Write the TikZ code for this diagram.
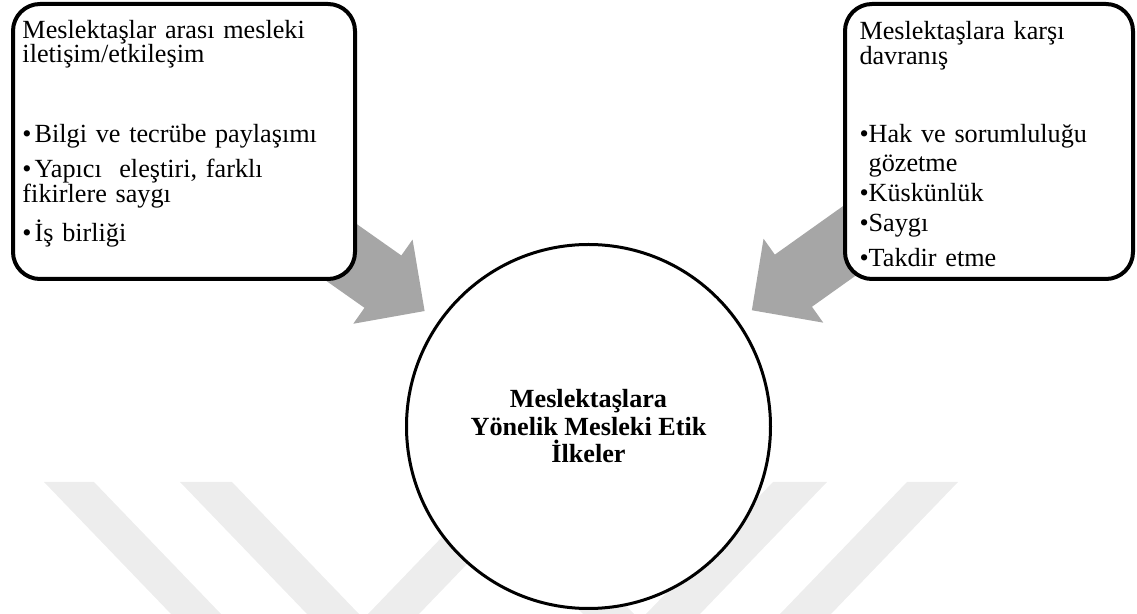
\documentclass[tikz,border=0pt]{standalone}
\usepackage{fontspec}
\setmainfont{Liberation Serif}
\definecolor{arrowgrey}{HTML}{A6A6A6}
\definecolor{markgrey}{HTML}{EDEDED}
\usetikzlibrary{calc}
\pgfdeclarelayer{background}
\pgfsetlayers{background,main}
\setlength{\lineskiplimit}{-20pt}

\begin{document}
\begin{tikzpicture}[
    x=0.5pt, y=-0.5pt,
    panel/.style={rectangle, draw=black, line width=2pt, fill=white, rounded corners=13.5pt,
                  align=left, inner ysep=0pt, font=\fontsize{13.1}{12}\selectfont},
    hub/.style={circle, draw=black, line width=1.5pt, fill=white, minimum size=182pt,
                inner sep=0pt, align=center, font=\fontsize{13.1}{13.75}\selectfont\bfseries},
    feed/.style={fill=arrowgrey},
    stripe/.style={fill=markgrey}
]
    \useasboundingbox (0,0) rectangle (1137,614);

    \node[panel, inner xsep=4.75pt, text width=161.5pt, text height=17.5pt, text depth=120pt]
        (peers) at (184,141.5) {Meslektaşlar arası mesleki\\
        iletişim/etkileşim\\[28pt]
        •\hspace{1.5pt}Bilgi ve tecrübe paylaşımı\\[4pt]
        •\hspace{1.5pt}Yapıcı\ \ eleştiri, farklı\\[-0.5pt]
        fikirlere saygı\\[5pt]
        •\hspace{1.5pt}İş birliği};
    \node[panel, inner xsep=7.25pt, text width=129.5pt, text height=18pt, text depth=119.5pt]
        (conduct) at (989,141.5) {Meslektaşlara karşı\\[0.5pt]
        davranış\\[27pt]
        •Hak ve sorumluluğu\\[2.5pt]
        \hphantom{•}gözetme\\[3pt]
        •Küskünlük\\[3pt]
        •Saygı\\[5.5pt]
        •Takdir etme};
    \node[hub] (ethics) at (588.5,426.5) {Meslektaşlara\\Yönelik Mesleki Etik\\İlkeler};

    \begin{pgfonlayer}{background}
        \fill[stripe] (44,482) -- (94,482) -- (221,614) -- (171,614) -- cycle;
        \fill[stripe] (180,482) -- (232,482) -- (359,614) -- (307,614) -- cycle;
        \fill[stripe] (495,482) -- (546,482) -- (419,614) -- (368,614) -- cycle;
        \fill[stripe] (456,482) -- (507,482) -- (634,614) -- (583,614) -- cycle;
        \fill[stripe] (773,482) -- (827,482) -- (700,614) -- (646,614) -- cycle;
        \fill[stripe] (907,482) -- (958,482) -- (831,614) -- (780,614) -- cycle;

        \foreach \src in {peers,conduct} {
            \coordinate (tip) at ($(ethics)!100.25pt!(\src)$);
            \coordinate (neck) at ($(ethics)!125.75pt!(\src)$);
            \coordinate (tail) at ($(ethics)!235pt!(\src)$);
            \fill[feed] ($(tail)!16pt!90:(tip)$) -- ($(neck)!16pt!90:(tip)$)
                -- ($(neck)!25.75pt!90:(tip)$) -- (tip) -- ($(neck)!25.75pt!-90:(tip)$)
                -- ($(neck)!16pt!-90:(tip)$) -- ($(tail)!16pt!-90:(tip)$) -- cycle;
        }
    \end{pgfonlayer}
\end{tikzpicture}
\end{document}
